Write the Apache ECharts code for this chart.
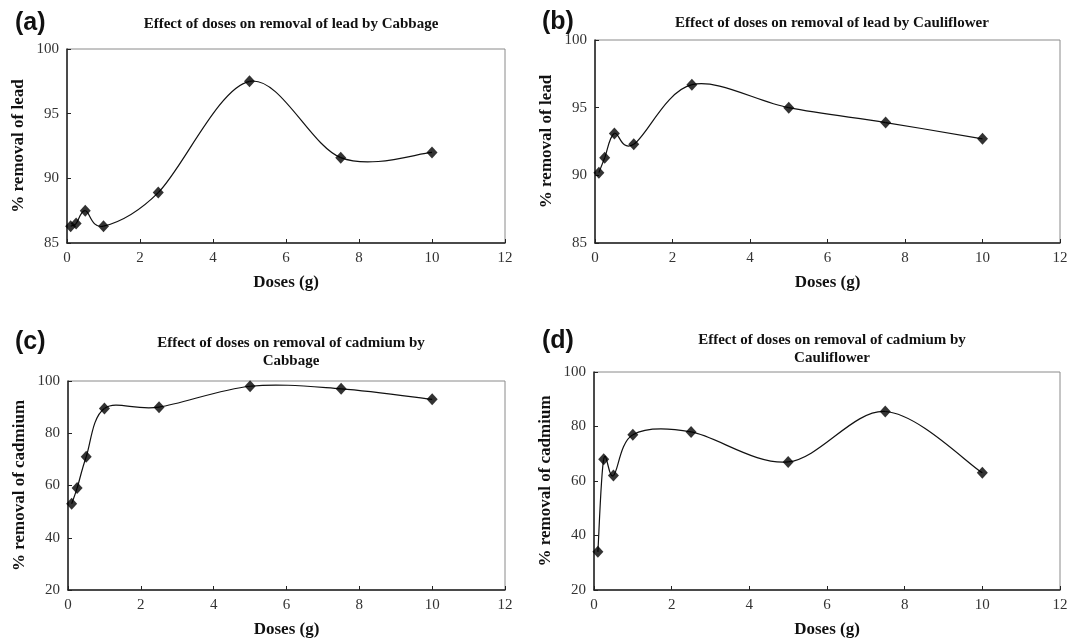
<!DOCTYPE html>
<html>
<head>
<meta charset="utf-8">
<script src="https://cdn.jsdelivr.net/npm/echarts@6/dist/echarts.min.js"></script>
<style>
html,body{margin:0;padding:0;background:#fff;}
#chart{width:1071px;height:640px;}
</style>
</head>
<body>
<div id="chart"></div>
<script>
// Doses (g)
var doses = [0.1, 0.25, 0.5, 1, 2.5, 5, 7.5, 10];
// % removal values
var leadCabbage = [86.3, 86.5, 87.5, 86.3, 88.9, 97.5, 91.6, 92.0];
var leadCauliflower = [90.2, 91.3, 93.1, 92.3, 96.7, 95.0, 93.9, 92.7];
var cadmiumCabbage = [53, 59, 71, 89.5, 90, 98, 97, 93];
var cadmiumCauliflower = [34, 68, 62, 77, 78, 67, 85.5, 63];

var panelLetters = ['(a)', '(b)', '(c)', '(d)'];
var panelTitles = [
  'Effect of doses on removal of lead by Cabbage',
  'Effect of doses on removal of lead by Cauliflower',
  'Effect of doses on removal of cadmium by\nCabbage',
  'Effect of doses on removal of cadmium by\nCauliflower'
];
var yNames = ['% removal of lead', '% removal of lead', '% removal of cadmium', '% removal of cadmium'];
var xName = 'Doses (g)';
var yRanges = [[85, 100, 5], [85, 100, 5], [20, 100, 20], [20, 100, 20]];
var xRange = [0, 12, 2];
var seriesData = [leadCabbage, leadCauliflower, cadmiumCabbage, cadmiumCauliflower];

var grids = [
  {left: 67, top: 49, width: 438, height: 194},
  {left: 595, top: 40, width: 465, height: 203},
  {left: 68, top: 381, width: 437, height: 209},
  {left: 594, top: 372, width: 466, height: 218}
];
var letterPos = [[10, 6], [537, 5], [10, 325], [537, 324]];
var titleTop = [[286, 10], [827, 9], [286, 329], [827, 326]];

var serif = '"Liberation Serif", "DejaVu Serif", serif';
var sans = '"Liberation Sans", Arial, sans-serif';

// Smoothed (Catmull-Rom style) curve through the data points, positioned by the axes.
function makeCurveRenderer(values) {
  return function (params, api) {
    if (params.dataIndex !== 0) return null;
    var p = [];
    for (var k = 0; k < doses.length; k++) p.push(api.coord([doses[k], values[k]]));
    var children = [];
    var t = 1 / 6;
    for (var j = 0; j < p.length - 1; j++) {
      var p0 = p[Math.max(j - 1, 0)], p1 = p[j], p2 = p[j + 1], p3 = p[Math.min(j + 2, p.length - 1)];
      children.push({
        type: 'bezierCurve',
        shape: {
          x1: p1[0], y1: p1[1], x2: p2[0], y2: p2[1],
          cpx1: p1[0] + (p2[0] - p0[0]) * t, cpy1: p1[1] + (p2[1] - p0[1]) * t,
          cpx2: p2[0] - (p3[0] - p1[0]) * t, cpy2: p2[1] - (p3[1] - p1[1]) * t
        },
        style: {stroke: '#111', fill: null, lineWidth: 1.2}
      });
    }
    return {type: 'group', children: children};
  };
}

var option = {
  animation: false,
  backgroundColor: '#fff',
  title: [],
  grid: [],
  xAxis: [],
  yAxis: [],
  series: []
};

for (var i = 0; i < 4; i++) {
  option.grid.push({
    left: grids[i].left, top: grids[i].top, width: grids[i].width, height: grids[i].height,
    show: true, borderColor: '#8a8a8a', borderWidth: 1, backgroundColor: 'transparent'
  });
  option.title.push({
    text: panelLetters[i], left: letterPos[i][0], top: letterPos[i][1],
    textStyle: {fontFamily: sans, fontWeight: 'bold', fontSize: 25, color: '#111'}
  });
  option.title.push({
    text: panelTitles[i], left: titleTop[i][0], top: titleTop[i][1], textAlign: 'center',
    textStyle: {fontFamily: serif, fontWeight: 'bold', fontSize: 15, color: '#111', lineHeight: 18}
  });
  option.xAxis.push({
    type: 'value', gridIndex: i, min: xRange[0], max: xRange[1], interval: xRange[2],
    name: xName, nameLocation: 'middle', nameGap: 31,
    nameTextStyle: {fontFamily: serif, fontWeight: 'bold', fontSize: 17, color: '#111'},
    axisLine: {show: true, onZero: false, lineStyle: {color: '#222', width: 1.5}},
    axisTick: {show: true, inside: true, length: 4, lineStyle: {color: '#222', width: 1}},
    axisLabel: {fontFamily: serif, fontSize: 15, color: '#333', margin: 8},
    splitLine: {show: false}
  });
  option.yAxis.push({
    type: 'value', gridIndex: i, min: yRanges[i][0], max: yRanges[i][1], interval: yRanges[i][2],
    name: yNames[i], nameLocation: 'middle', nameGap: 40, nameRotate: 90,
    nameTextStyle: {fontFamily: serif, fontWeight: 'bold', fontSize: 17, color: '#111'},
    axisLine: {show: true, onZero: false, lineStyle: {color: '#222', width: 1.5}},
    axisTick: {show: true, inside: true, length: 4, lineStyle: {color: '#222', width: 1}},
    axisLabel: {fontFamily: serif, fontSize: 15, color: '#333', margin: 8},
    splitLine: {show: false}
  });
  var pts = [];
  for (var k = 0; k < doses.length; k++) pts.push([doses[k], seriesData[i][k]]);
  option.series.push({
    type: 'custom', xAxisIndex: i, yAxisIndex: i, data: pts,
    renderItem: makeCurveRenderer(seriesData[i]), silent: true, z: 2
  });
  option.series.push({
    type: 'scatter', xAxisIndex: i, yAxisIndex: i, data: pts,
    symbol: 'diamond', symbolSize: [11, 12],
    itemStyle: {color: '#000'}, z: 3
  });
}

var chart = echarts.init(document.getElementById('chart'), null, {renderer: 'canvas'});
chart.setOption(option);
</script>
</body>
</html>
